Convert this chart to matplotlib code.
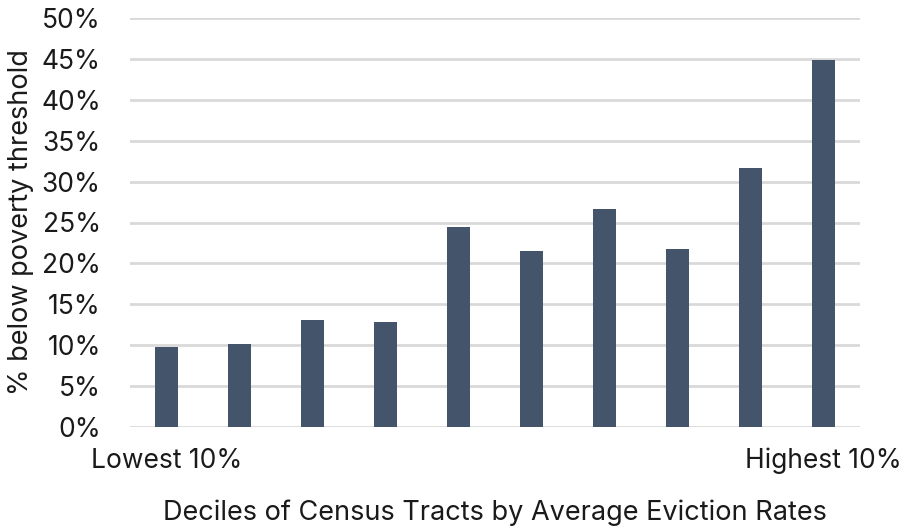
import matplotlib
matplotlib.use("Agg")
import matplotlib.pyplot as plt
import numpy as np

deciles = ["Lowest 10%", "", "", "", "", "", "", "", "", "Highest 10%"]
pct_poverty = [9.8, 10.1, 13.1, 12.8, 24.5, 21.5, 26.6, 21.8, 31.7, 44.9]
y_ticks = [0, 5, 10, 15, 20, 25, 30, 35, 40, 45, 50]

plt.rcParams['font.family'] = ['Inter', 'DejaVu Sans']

fig = plt.figure(figsize=(9.05, 5.29), dpi=100)
ax = fig.add_axes([130 / 905, 1 - 427 / 529, 730 / 905, 409 / 529])

x = np.arange(len(pct_poverty))
ax.bar(x, pct_poverty, width=0.315, color='#44546A', zorder=3)

ax.set_xlim(-0.5, len(pct_poverty) - 0.5)
ax.set_ylim(0, 50)
ax.set_yticks(y_ticks)
ax.set_yticklabels([f"{t}%" for t in y_ticks])
ax.set_xticks(x)
ax.set_xticklabels(deciles)
ax.yaxis.grid(True, color='#D9D9D9', linewidth=2, zorder=0)
for s in ax.spines.values():
    s.set_visible(False)
ax.tick_params(axis='both', length=0, labelsize=19, colors='#1a1a1a')
ax.tick_params(axis='x', pad=15)
ax.tick_params(axis='y', pad=21)

ax.set_ylabel('% below poverty threshold', fontsize=19.5, color='#1a1a1a', labelpad=5)
ax.set_xlabel('Deciles of Census Tracts by Average Eviction Rates', fontsize=19.5,
              color='#1a1a1a', labelpad=18)

fig.savefig('out.png', dpi=100)
